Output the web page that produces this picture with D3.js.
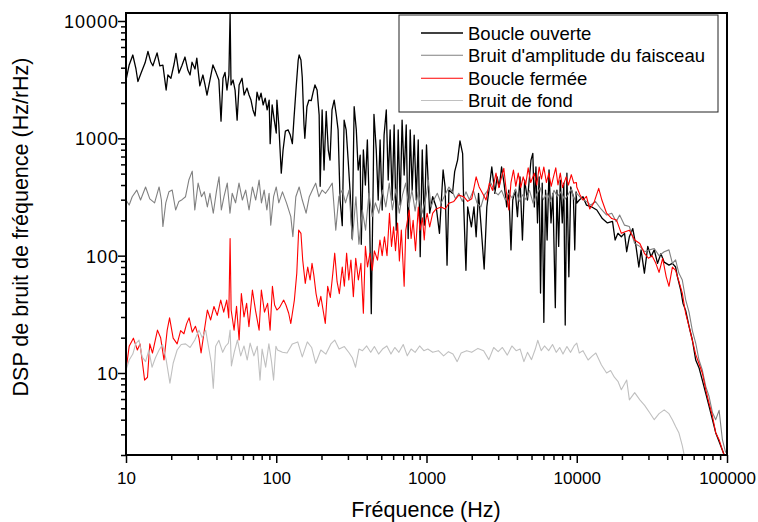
<!DOCTYPE html>
<html><head><meta charset="utf-8">
<script src="https://cdn.jsdelivr.net/npm/d3@7/dist/d3.min.js"></script>
<style>body{margin:0;background:#fff} svg{font-family:Arial,"Liberation Sans",sans-serif;display:block}</style>
</head><body><svg id="c" width="758" height="522"></svg>
<script>
const xTickValues=[10,100,1000,10000,100000];
const yTickValues=[10,100,1000,10000];
const legendLabels=["Boucle ouverte","Bruit d'amplitude du faisceau","Boucle fermée","Bruit de fond"];
const xTitle="Fréquence (Hz)";
const yTitle="DSP de bruit de fréquence (Hz/rHz)";

const boucleOuverte=[[10,3140],[10.5,4220],[11.1,5130],[11.65,3900],[12.0,3050],[12.6,3600],[13.4,4400],[14.0,5500],[14.6,4500],[15.1,4150],[16.1,5350],[16.8,4150],[17.6,4200],[18.5,2580],[19.0,3465],[19.9,3250],[20.9,4300],[21.5,5300],[22.5,3600],[23.6,4200],[24.7,4930],[25.8,3820],[26.7,3465],[27.5,4450],[28.8,3900],[29.6,4830],[31.0,2800],[32.5,3465],[33.5,2900],[34.6,2340],[36.2,3140],[37.9,4220],[39.7,3650],[41.5,3140],[42.9,1400],[44.2,3250],[45.6,3650],[47.0,2580],[48.4,3465],[49.3,11700],[50,2850],[51.6,3140],[53.2,2580],[54.9,1430],[56.6,2850],[59.2,3250],[61.1,2340],[63.9,2680],[65.9,2340],[67.9,2120],[70.0,1745],[72.3,1550],[74.5,2480],[76.9,2120],[79.2,2430],[81.8,1925],[84.4,2200],[87.0,1745],[89.7,2120],[91.1,900],[93.9,1925],[97.0,1430],[100,1110],
[101,2120],[104,1300],[108,505],[111,795],[115,1150],[120,1180],[124,1065],[128,900],[131,1430],[136,2850],[140,4650],[142,5130],[146,4650],[149,3300],[153,1300],[155,1000],[160,1860],[165,2120],[171,2100],[176,2480],[181,2850],[187,2580],[193,1580],[196,390],[202,1745],[208,537],[215,1700],[222,795],[228,653],[235,1745],[243,2120],[251,1580],[258,1180],[266,298],[275,180],[283,1430],[292,1180],[301,653],[311,329],[320,140],[330,1860],[341,1180],[351,537],[362,720],[368,125],[380,795],[392,400],[404,968],[417,245],[429,32],[442,441],[447,1600],[463,795],[477,298],[491,968],[507,245],[522,1065],[540,1745],[556,441],[573,1180],[591,298],[609,1300],[629,165],[648,1180],[668,270],[688,1430],[710,487],[733,1300],[755,140],[779,1180],[803,362],[828,1065],[855,298],[881,968],[908,98],[937,795],[966,182],[1000,877],
[1010,653],[1050,230],[1100,318],[1160,260],[1220,155],[1290,537],[1330,385],[1370,83],[1410,362],[1490,340],[1540,520],[1610,653],[1670,950],[1740,740],[1770,260],[1830,75],[1880,260],[1990,176],[2070,260],[2140,145],[2220,340],[2300,190],[2420,77],[2520,260],[2620,385],[2720,570],[2850,340],[2950,470],[3050,385],[3160,570],[3280,415],[3420,260],[3530,362],[3650,112],[3750,298],[3890,362],[4030,215],[4190,470],[4350,136],[4500,441],[4700,298],[4960,653],[5100,745],[5220,260],[5350,570],[5480,190],[5620,470],[5740,48],[5890,415],[6040,27],[6200,362],[6350,136],[6540,537],[6740,190],[6940,340],[7200,36],[7380,362],[7580,120],[7770,441],[8010,190],[8200,415],[8380,25.6],[8600,505],[8860,66],[9120,385],[9500,318],[9700,112],[9900,350],
[10000,280],[10400,298],[11000,318],[11600,270],[12600,260],[13600,245],[14800,207],[16000,190],[17300,196],[18000,136],[18800,155],[19800,145],[20800,155],[21500,108],[22400,145],[23600,170],[24800,120],[25900,80],[26800,112],[28200,71],[29700,120],[31200,98],[32800,112],[34500,86],[36300,104],[38200,88],[41100,83],[43300,86],[45500,80],[46800,66],[49200,51],[51000,39],[53100,34],[55900,25],[58800,19.1],[61900,12.9],[65100,11.1],[68500,8.7],[72200,6.7],[76000,5.2],[80000,4.0],[84100,3.1],[88600,2.6],[93200,2.2],[97000,1.9],[100000,1.8]];

const bruitAmplitude=[[10,298],[10.5,270],[11.0,318],[11.8,362],[12.5,298],[13.5,385],[14.4,305],[15.5,282],[16.6,385],[17.2,298],[17.6,177],[18.4,282],[19.3,350],[20.3,362],[21.4,245],[22.5,290],[23.6,300],[24.9,318],[26.2,441],[27.6,525],[28.7,245],[30.2,415],[31.8,318],[33.2,350],[34.8,260],[36.2,340],[38.1,230],[40.1,362],[41.6,470],[43.1,245],[44.9,318],[47.2,415],[49.2,230],[50.9,340],[53.6,282],[56.5,415],[59.5,298],[62.6,362],[65.9,245],[69.4,385],[73,298],[76.9,441],[79.7,282],[83.1,362],[86.6,245],[89.6,340],[91.9,182],[96,318],
[100,385],[104,282],[110,350],[117,282],[125,215],[129,145],[135,318],[142,385],[149,298],[158,230],[166,318],[174,362],[183,415],[192,318],[202,362],[213,340],[224,373],[236,415],[249,165],[261,318],[275,362],[289,282],[305,362],[321,136],[339,318],[355,125],[374,245],[393,165],[414,340],[435,215],[457,282],[482,230],[509,362],[536,260],[565,415],[593,245],[625,370],[659,230],[692,330],[727,415],[762,260],[800,362],[840,240],[880,350],[935,230],[993,318],
[1030,441],[1070,260],[1120,300],[1180,340],[1250,280],[1330,330],[1410,385],[1490,350],[1560,305],[1640,340],[1730,290],[1830,350],[1930,300],[2050,360],[2170,280],[2300,260],[2430,330],[2560,360],[2690,415],[2850,350],[3000,330],[3160,360],[3340,300],[3520,340],[3720,310],[3920,370],[4140,290],[4370,330],[4600,300],[4850,360],[5120,280],[5400,330],[5700,380],[6000,300],[6350,340],[6700,290],[7050,360],[7450,320],[7850,350],[8300,300],[8750,330],[9200,370],[9600,300],
[10000,340],[10800,305],[11600,290],[12400,270],[13300,290],[14500,250],[15800,222],[17100,230],[18300,195],[19300,222],[20800,182],[22400,177],[24300,127],[26300,120],[28300,108],[30500,112],[32800,115],[35300,100],[38200,108],[41100,112],[43300,86],[45500,92],[47800,71],[50400,62],[53100,42],[55900,33],[58800,23],[61900,18],[65100,12.9],[68500,10.6],[72200,7.7],[76000,6.3],[80000,4.6],[84100,4.0],[88600,4.8],[93200,2.7],[98000,2.1]];

const boucleFermee=[[10,10.6],[10.5,16.9],[11.2,19.8],[11.9,15.7],[12.4,17.7],[12.8,12.9],[13.3,8.7],[13.9,9.2],[14.4,17.7],[15.0,14.8],[16.2,23.2],[17.0,20],[17.9,12.9],[18.8,23.2],[19.5,29.5],[20.6,19.8],[21.9,17.7],[23.1,23],[24.3,21.6],[25.3,26.2],[26.3,29.5],[27.6,22.3],[29.0,25],[30.6,19.8],[31.6,14.8],[33.2,23],[34.8,34.4],[36.6,28.3],[38.5,36.9],[40.5,31],[42.7,41.8],[44.7,33],[46.8,41.8],[48.3,29.5],[49.3,140],[50.1,34.4],[52.4,23.2],[54.4,37],[56.6,19.1],[58.6,47.5],[61,30],[63.5,39.2],[65.8,24.8],[69.4,51],[72.8,34],[76.9,23.2],[79.6,51],[83.5,33],[87.6,39.2],[91,23.2],[94.3,54.8],[97.5,38],
[101,34.4],[105,36],[112,41.8],[116,38],[121,32.3],[125,26.4],[132,41.8],[137,71],[141,165],[146,155],[150,91.7],[156,58],[162,80],[168,62],[173,86],[178,68],[184,47.5],[191,36.9],[198,45],[205,34.4],[212,26.4],[220,54.8],[229,44],[238,71],[245,105],[254,60],[263,47.5],[275,80],[284,55],[294,105],[304,62],[314,91.7],[326,44.6],[338,95],[352,62],[366,86],[380,32.3],[392,120],[405,80],[420,105],[435,75],[450,110],[472,91.7],[490,136],[507,100],[525,145],[546,100],[567,230],[585,120],[604,176],[622,110],[642,190],[660,90],[680,165],[710,54.8],[728,165],[767,245],[790,140],[815,200],[845,110],[882,260],[905,165],[940,210],[966,136],[987,200],
[1010,230],[1050,176],[1100,230],[1160,250],[1250,260],[1330,250],[1410,280],[1520,290],[1640,328],[1770,318],[1880,290],[2000,305],[2140,470],[2240,385],[2360,340],[2490,298],[2620,415],[2750,360],[2900,505],[3030,380],[3160,470],[3270,555],[3400,350],[3530,245],[3650,420],[3790,537],[3930,390],[4080,505],[4240,380],[4400,470],[4570,400],[4750,560],[4940,420],[5220,505],[5420,400],[5620,570],[5820,450],[6040,570],[6280,420],[6520,505],[6760,390],[7000,470],[7250,560],[7500,400],[7770,505],[8040,380],[8500,470],[8800,400],[9200,490],[9550,415],[9950,420],
[10000,385],[10500,330],[11000,298],[11600,320],[12200,250],[13000,282],[14000,375],[14700,298],[15800,230],[17100,207],[18400,201],[19800,155],[21000,160],[22400,165],[24300,136],[26300,127],[28300,104],[30000,95],[31700,100],[33600,86],[35300,72],[37300,95],[39400,66],[41100,54.8],[43300,80],[45500,75],[47900,60],[50400,48],[53100,32],[55900,25],[58800,19],[61900,14.4],[65100,12],[68500,10],[72200,7.2],[76000,5.5],[80000,4.3],[84100,3.1],[88600,2.7],[93200,2.2],[97000,1.9]];

const bruitFond=[[10,10.6],[10.5,12.9],[11.1,14.5],[11.6,17.7],[12.2,19.1],[12.8,13.7],[13.5,12.5],[14.2,15.7],[14.9,11.2],[15.7,13.5],[16.6,15.7],[17.5,17.5],[18.5,13],[19.6,8.2],[20.6,12.1],[21.9,15.7],[23.3,17.5],[24.9,17.7],[26.7,16.5],[28.7,19.1],[30.6,23.2],[32.2,20],[33.9,23.2],[35.5,16.5],[37,12.1],[38.1,7.4],[39.5,16.9],[41.5,19],[44,15],[46,16.9],[48,18],[49.3,23.2],[50.3,11.5],[52.5,15],[55.2,19.1],[58,14],[61,17],[64.1,12.9],[67,18],[71,14],[74.8,16.9],[78,8.7],[80.5,16],[85,11.2],[89.3,17.7],[93,12.5],[96,8.7],[99.5,16.9],
[102,15.7],[110,15],[118,14.8],[128,17.7],[139,18.4],[149,13.7],[161,18.4],[172,16.5],[183,12.1],[198,15.7],[214,14.5],[231,17.7],[245,19.1],[262,16],[284,16.8],[306,14.8],[321,13.5],[337,11.2],[355,16],[375,15.5],[400,17],[425,15],[450,16.8],[480,14.5],[510,16],[545,17],[580,14.5],[615,16.5],[655,15],[700,17.5],[745,14],[790,16],[840,15],[900,17],[960,15.5],
[1020,16],[1100,15],[1200,15.5],[1300,14],[1400,15.2],[1500,14.5],[1600,12.5],[1700,14.8],[1850,15.5],[2000,15],[2200,16.2],[2400,15.5],[2600,13],[2800,16.5],[3000,15.2],[3200,16.5],[3450,14.2],[3700,17],[3950,15.5],[4200,16],[4450,12.5],[4700,15],[5000,13],[5300,16],[5500,19],[5800,15.5],[6100,17],[6500,15.5],[6900,17.5],[7300,15],[7700,16.5],[8100,14.5],[8600,16.8],[9100,15],[9600,17],
[10000,18],[10400,14.8],[11000,15.5],[11900,12.9],[12700,14],[13400,14.8],[14600,11.7],[15800,10],[16800,10.5],[17800,9.2],[18800,8.5],[19800,7.2],[21500,8.7],[22400,5.9],[24300,6.8],[26300,5.9],[28300,5.3],[30500,4.6],[32800,4],[35300,4.5],[38200,4.85],[41100,4.5],[43300,4],[45500,3.5],[47800,3.1],[50400,2.4],[52300,1.9]];

const seriesList=[boucleOuverte,bruitAmplitude,boucleFermee,bruitFond];
const colors=["#000000","#808080","#ff0000","#c0c0c0"];
const widths=[1.3,1.1,1.1,1.1];

const L=126,R=727,T=13,B=455;
const svg=d3.select("#c");
const x=d3.scaleLog().domain([10,100000]).range([L,R]);
const y=d3.scaleLog().domain([2,11700]).range([B,T]);

svg.append("clipPath").attr("id","clip").append("rect").attr("x",L).attr("y",T).attr("width",R-L).attr("height",B-T);

const line=d3.line().x(d=>x(d[0])).y(d=>y(d[1]));
const g=svg.append("g").attr("clip-path","url(#clip)");
seriesList.forEach((s,i)=>{
  g.append("path").datum(s).attr("d",line).attr("fill","none")
   .attr("stroke",colors[i]).attr("stroke-width",widths[i]).attr("stroke-linejoin","round");
});

// minor ticks
const xMinor=[],yMinor=[];
for(let e=10;e<100000;e*=10)for(let k=2;k<=9;k++)xMinor.push(e*k);
for(let e=1;e<=10000;e*=10)for(let k=2;k<=9;k++){const v=e*k;if(v>=2&&v<=11700)yMinor.push(v);}

const xAxis=svg.append("g").attr("transform",`translate(0,${B})`)
  .call(d3.axisBottom(x).tickValues(xTickValues).tickFormat(d3.format("d")).tickSize(8).tickSizeOuter(0).tickPadding(4));
svg.append("g").attr("transform",`translate(0,${B})`)
  .call(d3.axisBottom(x).tickValues(xMinor).tickFormat("").tickSize(5).tickSizeOuter(0))
  .select(".domain").remove();
const yAxis=svg.append("g").attr("transform",`translate(${L},0)`)
  .call(d3.axisLeft(y).tickValues(yTickValues).tickFormat(d3.format("d")).tickSize(8).tickSizeOuter(0).tickPadding(2));
svg.append("g").attr("transform",`translate(${L},0)`)
  .call(d3.axisLeft(y).tickValues(yMinor).tickFormat("").tickSize(5).tickSizeOuter(0))
  .select(".domain").remove();

svg.selectAll(".tick line").attr("stroke","#000").attr("stroke-width",1.5);
xAxis.selectAll("text").attr("font-size",17).attr("fill","#000").attr("font-family","Arial, 'Liberation Sans', sans-serif").attr("y",null).attr("dy",null).attr("transform","translate(0,29)");
yAxis.selectAll("text").attr("font-size",18).attr("fill","#000").attr("font-family","Arial, 'Liberation Sans', sans-serif").attr("letter-spacing","1px").attr("x",-7).attr("dy","0.36em");

// frame
svg.append("rect").attr("x",L).attr("y",T).attr("width",R-L).attr("height",B-T)
  .attr("fill","none").attr("stroke","#000").attr("stroke-width",2);

// titles
svg.append("text").attr("x",426).attr("y",517).attr("text-anchor","middle")
  .attr("font-size",21.5).attr("fill","#000").text(xTitle);
svg.append("text").attr("transform","translate(28,227) rotate(-90)").attr("text-anchor","middle")
  .attr("font-size",21.5).attr("fill","#000").text(yTitle);

// legend
const lg=svg.append("g");
lg.append("rect").attr("x",399).attr("y",15).attr("width",319).attr("height",97)
  .attr("fill","#fff").attr("stroke","#222").attr("stroke-width",1);
const rowY=[33,55.3,78.3,100.5];
legendLabels.forEach((lab,i)=>{
  lg.append("line").attr("x1",421).attr("x2",463).attr("y1",rowY[i]).attr("y2",rowY[i])
    .attr("stroke",colors[i]).attr("stroke-width",widths[i]);
  lg.append("text").attr("x",468).attr("y",rowY[i]+6.5).attr("font-size",18.5).attr("fill","#000").text(lab);
});
</script></body></html>
